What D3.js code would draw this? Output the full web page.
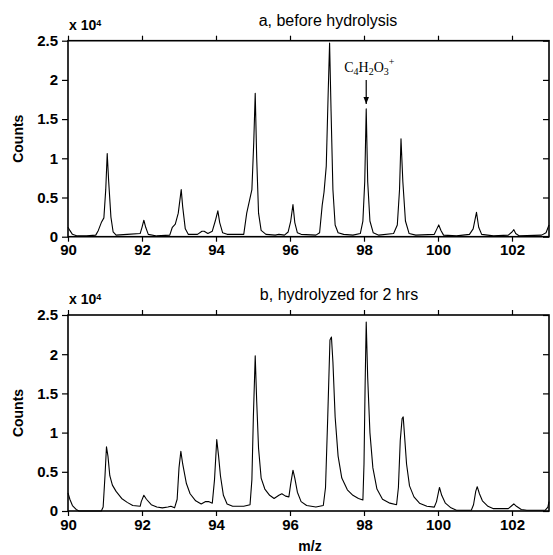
<!DOCTYPE html>
<html>
<head>
<meta charset="utf-8">
<script src="https://cdn.jsdelivr.net/npm/d3@7"></script>
<style>
  body { margin: 0; background: #fff; }
  svg { display: block; }
  .tick text { font-family: "Liberation Sans", Arial, sans-serif; font-weight: bold; font-size: 15px; fill: #000; }
  .tick line { stroke: #000; stroke-width: 1.2; }
  .label { font-family: "Liberation Sans", Arial, sans-serif; font-weight: bold; font-size: 14px; }
  .title { font-family: "Liberation Sans", Arial, sans-serif; font-size: 16px; }
</style>
</head>
<body>
<div id="chart"></div>
<script>
// Tick values (counts are in units of 10^4)
var xTicks = [90, 92, 94, 96, 98, 100, 102];
var yTicks = [0, 0.5, 1, 1.5, 2, 2.5];
var yTickLabels = ["0", "0.5", "1", "1.5", "2", "2.5"];

// Panel a, before hydrolysis
var mzA = [90.00, 90.05, 90.12, 90.25, 90.5, 90.75, 90.82, 90.9, 90.97, 91.02, 91.06, 91.1, 91.16, 91.22, 91.3,
  91.6, 91.95, 92.0, 92.05, 92.1, 92.17, 92.4, 92.75, 92.82, 92.9, 92.98, 93.06, 93.1, 93.17, 93.25,
  93.5, 93.62, 93.68, 93.78, 93.9, 93.98, 94.05, 94.1, 94.18, 94.3, 94.75, 94.83, 94.9, 94.97, 95.02,
  95.06, 95.1, 95.15, 95.22, 95.35, 95.6, 95.7, 95.85, 95.95, 96.02, 96.08, 96.13, 96.2, 96.3, 96.7,
  96.8, 96.87, 96.92, 96.98, 97.03, 97.07, 97.11, 97.16, 97.22, 97.3, 97.45, 97.7, 97.9, 97.97, 98.02,
  98.06, 98.1, 98.16, 98.25, 98.4, 98.8, 98.9, 98.96, 99.0, 99.05, 99.12, 99.22, 99.4, 99.9, 99.97,
  100.02, 100.08, 100.15, 100.5, 100.85, 100.95, 101.04, 101.1, 101.18, 101.5, 101.9, 102.0, 102.05, 102.1, 102.2,
  102.8, 102.92, 103.0];
var countsA = [0.12, 0.08, 0.03, 0.01, 0.01, 0.02, 0.08, 0.18, 0.24, 0.6, 1.06, 0.7, 0.25, 0.06, 0.02,
  0.03, 0.04, 0.12, 0.21, 0.12, 0.03, 0.01, 0.02, 0.12, 0.16, 0.3, 0.6, 0.38, 0.1, 0.03,
  0.03, 0.07, 0.07, 0.04, 0.07, 0.2, 0.33, 0.18, 0.05, 0.03, 0.03, 0.3, 0.45, 0.6, 1.2,
  1.83, 1.0, 0.3, 0.08, 0.03, 0.02, 0.03, 0.02, 0.06, 0.2, 0.41, 0.18, 0.05, 0.03, 0.02,
  0.05, 0.4, 0.57, 0.9, 1.8, 2.47, 1.6, 0.6, 0.15, 0.05, 0.03, 0.02, 0.04, 0.2, 0.7,
  1.63, 0.7, 0.2, 0.05, 0.02, 0.04, 0.15, 0.6, 1.25, 0.7, 0.2, 0.04, 0.02, 0.03, 0.1,
  0.15, 0.08, 0.02, 0.01, 0.03, 0.1, 0.31, 0.12, 0.03, 0.01, 0.02, 0.06, 0.09, 0.04, 0.01,
  0.02, 0.05, 0.15];

// Panel b, hydrolyzed for 2 hrs
var mzB = [90.0, 90.05, 90.12, 90.22, 90.3, 90.9, 90.95, 91.0, 91.04, 91.08, 91.13, 91.2, 91.3, 91.45, 91.6,
  91.75, 91.95, 91.98, 92.05, 92.12, 92.25, 92.4, 92.55, 92.7, 92.78, 92.88, 92.95, 93.0, 93.05, 93.1,
  93.2, 93.3, 93.45, 93.6, 93.72, 93.8, 93.9, 93.96, 94.02, 94.07, 94.12, 94.2, 94.3, 94.45, 94.75,
  94.92, 94.97, 95.01, 95.06, 95.1, 95.15, 95.22, 95.32, 95.45, 95.57, 95.7, 95.78, 95.88, 95.97, 96.02,
  96.08, 96.13, 96.2, 96.3, 96.45, 96.7, 96.9, 96.96, 97.02, 97.08, 97.12, 97.16, 97.22, 97.3, 97.4, 97.55,
  97.7, 97.85, 97.97, 98.0, 98.03, 98.06, 98.1, 98.16, 98.24, 98.35, 98.5, 98.7, 98.88, 98.93, 98.98,
  99.03, 99.06, 99.09, 99.15, 99.23, 99.35, 99.5, 99.7, 99.9, 99.96, 100.04, 100.1, 100.2, 100.35, 100.5, 100.9,
  100.96, 101.02, 101.06, 101.12, 101.2, 101.35, 101.5, 101.9, 102.0, 102.05, 102.12, 102.25, 102.4, 102.9, 102.97,
  103.0];
var countsB = [0.23, 0.15, 0.07, 0.02, 0.0, 0.0, 0.05, 0.45, 0.82, 0.7, 0.45, 0.33, 0.25, 0.16, 0.11,
  0.07, 0.06, 0.12, 0.2, 0.15, 0.08, 0.05, 0.04, 0.05, 0.06, 0.04, 0.15, 0.55, 0.76, 0.6,
  0.35, 0.22, 0.13, 0.09, 0.12, 0.12, 0.1, 0.4, 0.91, 0.7, 0.45, 0.2, 0.09, 0.06, 0.06,
  0.08, 0.4, 1.2, 1.98, 1.4, 0.8, 0.42, 0.28, 0.2, 0.16, 0.2, 0.22, 0.19, 0.18, 0.35,
  0.52, 0.42, 0.24, 0.12, 0.07, 0.05, 0.07, 0.3, 1.2, 2.18, 2.22, 1.9, 1.2, 0.7, 0.42, 0.27,
  0.2, 0.16, 0.14, 0.6, 1.6, 2.41, 1.7, 1.0, 0.55, 0.28, 0.15, 0.1, 0.08, 0.3, 0.9,
  1.18, 1.2, 1.0, 0.6, 0.32, 0.18, 0.1, 0.06, 0.05, 0.12, 0.3, 0.2, 0.1, 0.04, 0.01, 0.01,
  0.08, 0.25, 0.31, 0.22, 0.13, 0.06, 0.03, 0.03, 0.07, 0.09, 0.06, 0.02, 0.01, 0.01, 0.05,
  0.12];

// Annotated ion in panel a
var annotMz = 98.06;
var annotCount = 1.63;

var W = 553, H = 555;
var left = 68, right = 549, plotH = 196;

var svg = d3.select("#chart").append("svg")
    .attr("width", W)
    .attr("height", H);

svg.append("defs").append("marker")
    .attr("id", "arrow")
    .attr("viewBox", "0 0 10 10")
    .attr("refX", 10)
    .attr("refY", 5)
    .attr("markerWidth", 6)
    .attr("markerHeight", 6)
    .attr("orient", "auto")
    .append("path")
    .attr("d", "M0,1 L10,5 L0,9 Z")
    .attr("fill", "#000");

var x = d3.scaleLinear().domain([90, 103]).range([left, right]);

function drawPanel(top, mz, counts, title, titleX) {
    var y = d3.scaleLinear().domain([0, 2.5]).range([top + plotH, top]);
    var g = svg.append("g");

    // Curve
    var pts = mz.map(function(d, i) { return [d, counts[i]]; });
    var line = d3.line()
        .x(function(d) { return x(d[0]); })
        .y(function(d) { return y(d[1]); });
    g.append("path")
        .datum(pts)
        .attr("d", line)
        .attr("fill", "none")
        .attr("stroke", "#000")
        .attr("stroke-width", 1.1)
        .attr("stroke-linejoin", "round");

    // Axes
    g.append("g")
        .attr("transform", "translate(" + left + ",0)")
        .call(d3.axisLeft(y).tickValues(yTicks).tickSize(6).tickPadding(4)
            .tickFormat(function(d, i) { return yTickLabels[i]; }));
    g.append("g")
        .attr("transform", "translate(" + right + ",0)")
        .call(d3.axisRight(y).tickValues(yTicks).tickSize(-6).tickFormat(""));
    g.append("g")
        .attr("transform", "translate(0," + (top + plotH) + ")")
        .call(d3.axisBottom(x).tickValues(xTicks).tickSize(5).tickPadding(3).tickFormat(d3.format("d")));
    g.append("g")
        .attr("transform", "translate(0," + top + ")")
        .call(d3.axisTop(x).tickValues(xTicks).tickSize(5).tickFormat(""));
    g.selectAll(".domain").remove();
    g.selectAll("g").attr("font-family", null).attr("font-size", null);

    // Frame
    g.append("rect")
        .attr("x", left)
        .attr("y", top)
        .attr("width", right - left)
        .attr("height", plotH)
        .attr("fill", "none")
        .attr("stroke", "#000")
        .attr("stroke-width", 1.6);

    // Multiplier
    var mult = g.append("text")
        .attr("class", "label")
        .attr("x", left + 1)
        .attr("y", top - 11)
        .attr("font-size", "13px");
    mult.append("tspan").text("x 10");
    mult.append("tspan").attr("dy", -4).attr("font-size", "9px").text("4");

    // Title
    g.append("text")
        .attr("class", "title")
        .attr("x", titleX)
        .attr("y", top - 15)
        .attr("text-anchor", "middle")
        .text(title);

    // Y label
    g.append("text")
        .attr("class", "label")
        .attr("transform", "translate(23," + (top + plotH / 2) + ") rotate(-90)")
        .attr("text-anchor", "middle")
        .text("Counts");

    return y;
}

var yA = drawPanel(40.7, mzA, countsA, "a, before hydrolysis", 328);
var yB = drawPanel(315, mzB, countsB, "b, hydrolyzed for 2 hrs", 339);

// Annotation on panel a
var ax = x(annotMz);
svg.append("line")
    .attr("x1", ax)
    .attr("x2", ax)
    .attr("y1", yA(annotCount) - 29)
    .attr("y2", yA(annotCount) - 5)
    .attr("stroke", "#000")
    .attr("stroke-width", 1.2)
    .attr("marker-end", "url(#arrow)");

var ann = svg.append("text")
    .attr("x", ax - 22)
    .attr("y", yA(annotCount) - 37)
    .attr("font-family", "'Liberation Serif', 'Times New Roman', serif")
    .attr("font-size", "14px");
ann.append("tspan").text("C");
ann.append("tspan").attr("dy", 3).attr("font-size", "10px").text("4");
ann.append("tspan").attr("dy", -3).text("H");
ann.append("tspan").attr("dy", 3).attr("font-size", "10px").text("2");
ann.append("tspan").attr("dy", -3).text("O");
ann.append("tspan").attr("dy", 3).attr("font-size", "10px").text("3");
ann.append("tspan").attr("dy", -10).attr("font-size", "10px").text("+");

// X label
svg.append("text")
    .attr("class", "label")
    .attr("x", 310)
    .attr("y", 551)
    .attr("text-anchor", "middle")
    .text("m/z");
</script>
</body>
</html>
